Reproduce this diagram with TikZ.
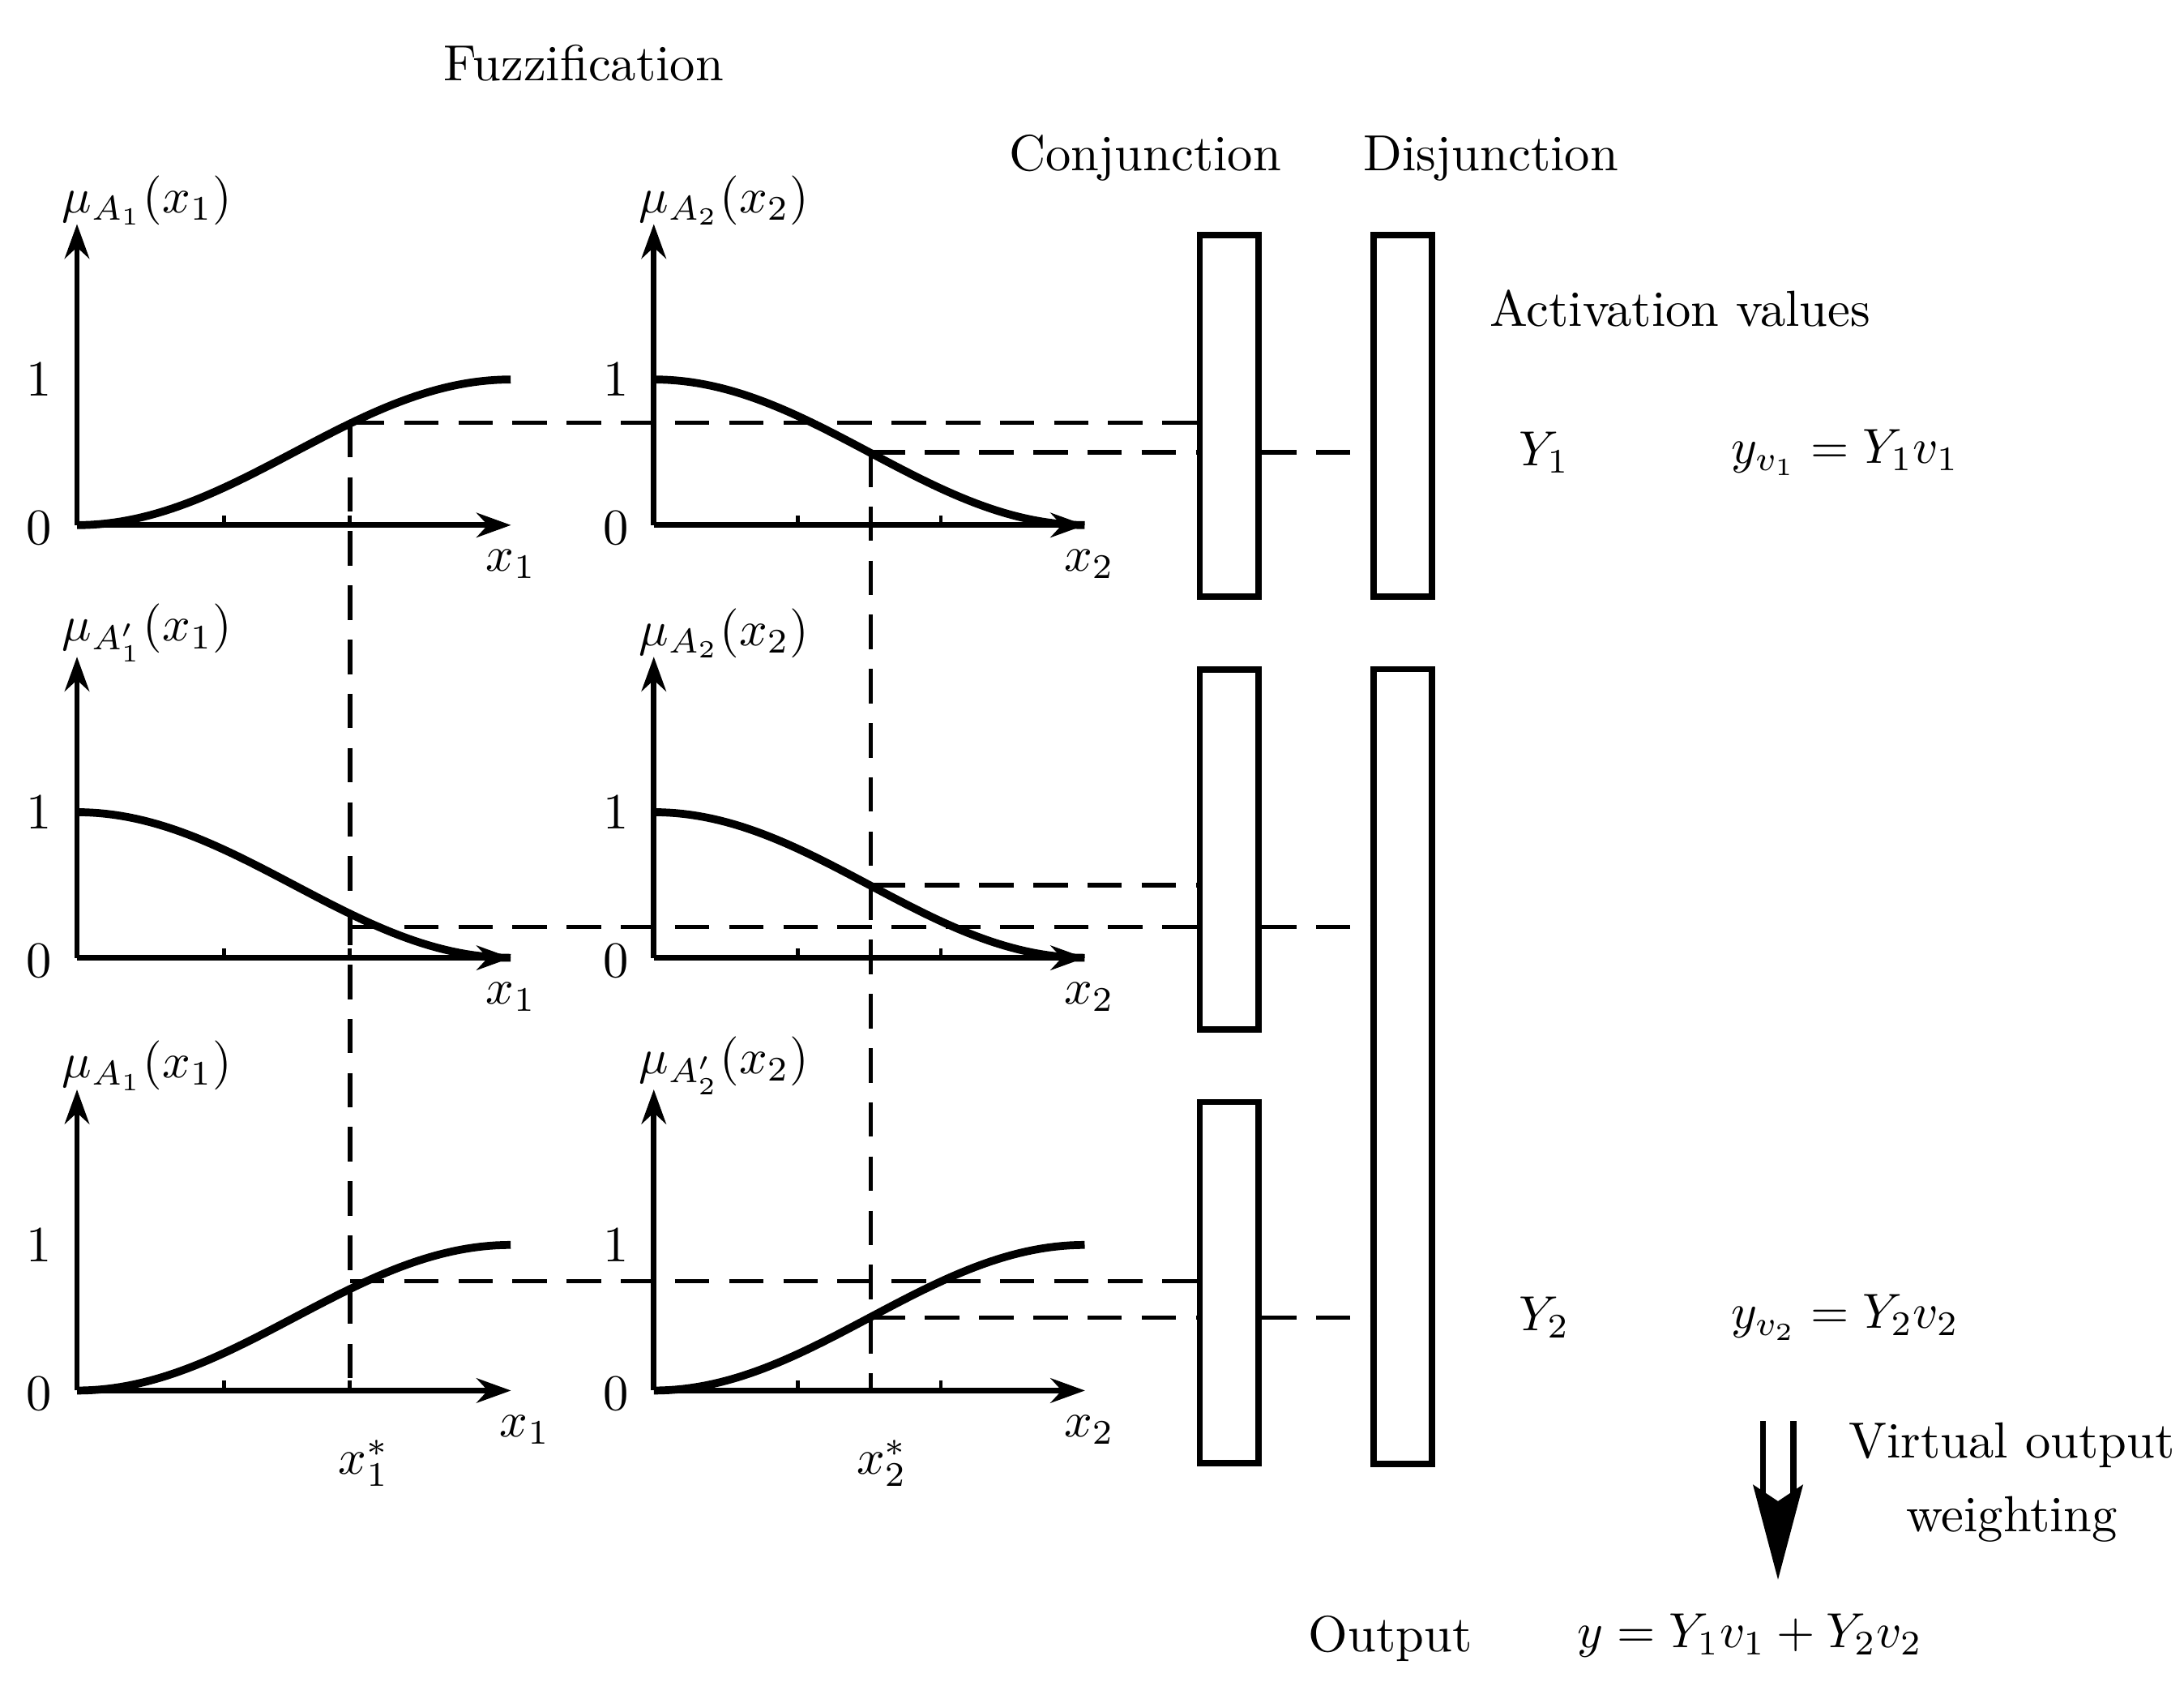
\documentclass[tikz,border=0pt]{standalone}
\usetikzlibrary{arrows.meta}
\begin{document}
\begin{tikzpicture}[x=0.01cm,y=-0.01cm,
  ax/.style={line width=1.1pt,-{Stealth[length=7pt,width=5pt]}},
  cv/.style={line width=1.6pt},
  dsh/.style={dashed,line width=0.9pt,dash pattern=on 7pt off 4pt},
  bx/.style={draw,line width=1.3pt},
  lb/.style={font=\fontsize{10.3}{12.5}\selectfont}]
\useasboundingbox (0,0) rectangle (1560,1201);
\foreach \r/\ya/\yb/\la/\lb in {0/{A_1}/{A_2}/1/0, 309/{A'_1}/{A_2}/0/0, 618/{A_1}/{A'_2}/1/1}{
  \begin{scope}[yshift=-\r*0.01cm]
  \draw[ax] (55,375) -- (365,375);
  \draw[ax] (55,375) -- (55,160);
  \draw[ax] (467,375) -- (775,375);
  \draw[ax] (467,375) -- (467,160);
  \foreach \t in {160,250}{\draw[line width=0.8pt] (\t,375) -- (\t,368);}
  \foreach \t in {570,672}{\draw[line width=0.8pt] (\t,375) -- (\t,368);}
  \node[lb] (one\r a) at (28,271) {1};
  \node[lb] (zero\r a) at (28,377) {0};
  \node[lb] (one\r b) at (440,271) {1};
  \node[lb] (zero\r b) at (440,377) {0};
  \node[lb] (mu\r a) at (105,143) {$\mu_{\ya}(x_1)$};
  \node[lb] (mu\r b) at (517,143) {$\mu_{\yb}(x_2)$};
  \ifnum\la=1
    \draw[cv] plot[domain=0:1,samples=60] ({55+310*\x},{375-104*(1-cos(180*\x))/2});
  \else
    \draw[cv] plot[domain=0:1,samples=60] ({55+310*\x},{375-104*(1+cos(180*\x))/2});
  \fi
  \ifnum\lb=1
    \draw[cv] plot[domain=0:1,samples=60] ({467+308*\x},{375-104*(1-cos(180*\x))/2});
  \else
    \draw[cv] plot[domain=0:1,samples=60] ({467+308*\x},{375-104*(1+cos(180*\x))/2});
  \fi
  \end{scope}}
\node[lb] (xa1) at (365,403) {$x_1$};
\node[lb] (xb1) at (778,403) {$x_2$};
\node[lb] (xa2) at (365,712) {$x_1$};
\node[lb] (xb2) at (778,712) {$x_2$};
\node[lb] (xa3) at (375,1021) {$x_1$};
\node[lb] (xb3) at (778,1021) {$x_2$};
\node[lb] (xs1) at (260,1045) {$x_1^*$};
\node[lb] (xs2) at (630,1045) {$x_2^*$};
\node[bx,minimum width=0.42cm,minimum height=2.58cm,inner sep=0] (c1) at (878,297) {};
\node[bx,minimum width=0.42cm,minimum height=2.57cm,inner sep=0] (c2) at (878,606.5) {};
\node[bx,minimum width=0.42cm,minimum height=2.58cm,inner sep=0] (c3) at (878,916) {};
\node[bx,minimum width=0.42cm,minimum height=2.58cm,inner sep=0] (d1) at (1002,297) {};
\node[bx,minimum width=0.42cm,minimum height=5.67cm,inner sep=0] (d2) at (1002,761.5) {};
\coordinate (p1) at (250,302); \coordinate (q1) at (622,323);
\coordinate (p2) at (250,662); \coordinate (q2) at (622,632);
\coordinate (p3) at (250,915); \coordinate (q3) at (622,941);
\coordinate (b1) at (250,993); \coordinate (b2) at (622,993);
\draw[dsh] (p1) -- (b1);
\draw[dsh] (q1) -- (b2);
\draw[dsh] (p1) -- (p1 -| c1.west);
\draw[dsh] (q1) -- (q1 -| c1.west);
\draw[dsh] (q1 -| c1.east) -- (q1 -| d1.west);
\draw[dsh] (q2) -- (q2 -| c2.west);
\draw[dsh] (p2) -- (p2 -| c2.west);
\draw[dsh] (p2 -| c2.east) -- (p2 -| d2.west);
\draw[dsh] (p3) -- (p3 -| c3.west);
\draw[dsh] (q3) -- (q3 -| c3.west);
\draw[dsh] (q3 -| c3.east) -- (q3 -| d2.west);
\node[lb] (fz) at (417,45) {Fuzzification};
\node[lb] (cj) at (818,113) {Conjunction};
\node[lb] (dj) at (1065,113) {Disjunction};
\node[lb] (av) at (1200,220) {Activation values};
\node[lb] (Y1) at (1103,323) {$Y_1$};
\node[lb] (yv1) at (1318,323) {$y_{v_1}=Y_1v_1$};
\node[lb] (Y2) at (1103,941) {$Y_2$};
\node[lb] (yv2) at (1318,941) {$y_{v_2}=Y_2v_2$};
\node[lb] (vo) at (1437,1032) {Virtual output};
\node[lb] (wg) at (1437,1085) {weighting};
\node[lb] (out) at (993,1170) {Output};
\node[lb] (yy) at (1250,1168) {$y=Y_1v_1+Y_2v_2$};
\coordinate (a1) at (1270,1015); \coordinate (a2) at (1270,1070);
\draw[line width=1.2pt,double distance=5pt] (a1) -- (a2);
\fill (1270,1128) -- (1252,1060) -- (1270,1072) -- (1288,1060) -- cycle;
\end{tikzpicture}
\end{document}
